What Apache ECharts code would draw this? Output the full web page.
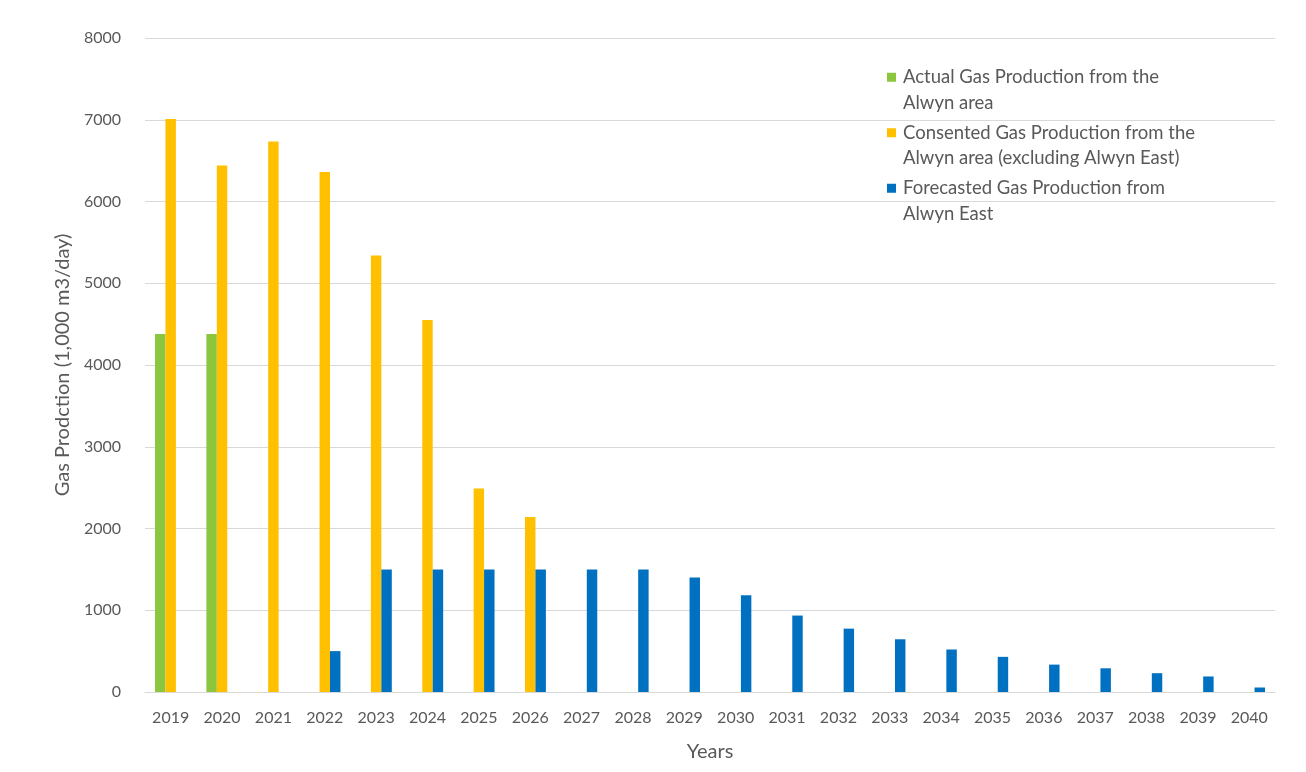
<!DOCTYPE html>
<html>
<head>
<meta charset="utf-8">
<script src="https://cdn.jsdelivr.net/npm/echarts@6/dist/echarts.min.js"></script>
<style>
  html, body { margin: 0; padding: 0; background: #fff; }
  #chart { width: 1306px; height: 772px; }
</style>
</head>
<body>
<div id="chart"></div>
<script>
const years = ['2019', '2020', '2021', '2022', '2023', '2024', '2025', '2026', '2027', '2028', '2029',
  '2030', '2031', '2032', '2033', '2034', '2035', '2036', '2037', '2038', '2039', '2040'];

const actualGas = [4380, 4380, null, null, null, null, null, null, null, null, null,
  null, null, null, null, null, null, null, null, null, null, null];

const consentedGas = [7010, 6440, 6735, 6360, 5340, 4550, 2490, 2140, null, null, null,
  null, null, null, null, null, null, null, null, null, null, null];

const forecastGas = [null, null, null, 500, 1500, 1500, 1500, 1500, 1500, 1500, 1400,
  1185, 935, 775, 645, 520, 430, 335, 290, 230, 190, 55];

const seriesNames = [
  'Actual Gas Production from the\nAlwyn area',
  'Consented Gas Production from the\nAlwyn area (excluding Alwyn East)',
  'Forecasted Gas Production from\nAlwyn East'
];

const chart = echarts.init(document.getElementById('chart'));
const fontFamily = 'Lato, "Open Sans", sans-serif';
const textColor = '#595959';

const option = {
  animation: false,
  textStyle: { fontFamily: fontFamily },
  grid: {
    left: 145,
    right: 31,
    top: 38,
    bottom: 80,
  },
  legend: {
    orient: 'vertical',
    left: 887,
    top: 39,
    padding: 0,
    itemWidth: 9,
    itemHeight: 9,
    itemGap: -21,
    icon: 'rect',
    data: seriesNames,
    // leading empty line so the icon lines up with the first text line
    formatter: (name) => '\n' + name,
    textStyle: {
      color: textColor,
      fontSize: 18.5,
      lineHeight: 25.5,
      padding: [0, 0, 0, 2],
    },
  },
  xAxis: {
    type: 'category',
    data: years,
    name: 'Years',
    nameLocation: 'middle',
    nameGap: 50,
    nameTextStyle: { color: textColor, fontSize: 20 },
    axisLine: { lineStyle: { color: '#d9d9d9', width: 1 } },
    axisTick: { show: false },
    axisLabel: { color: textColor, fontSize: 16, margin: 18 },
  },
  yAxis: {
    type: 'value',
    min: 0,
    max: 8000,
    interval: 1000,
    name: 'Gas Prodction (1,000 m3/day)',
    nameLocation: 'middle',
    nameGap: 70,
    nameTextStyle: { color: textColor, fontSize: 20 },
    axisLine: { show: false },
    axisTick: { show: false },
    axisLabel: {
      color: textColor,
      fontSize: 16,
      margin: 24,
      formatter: (v) => String(v),
    },
    splitLine: { lineStyle: { color: '#d9d9d9', width: 1 } },
  },
  series: [
    {
      name: seriesNames[0],
      type: 'bar',
      data: actualGas,
      barGap: '0%',
      barCategoryGap: '39%',
      itemStyle: { color: '#8cc63f' },
    },
    {
      name: seriesNames[1],
      type: 'bar',
      data: consentedGas,
      barGap: '0%',
      barCategoryGap: '39%',
      itemStyle: { color: '#ffc000' },
    },
    {
      name: seriesNames[2],
      type: 'bar',
      data: forecastGas,
      barGap: '0%',
      barCategoryGap: '39%',
      itemStyle: { color: '#0070c0' },
    },
  ],
};

chart.setOption(option);
</script>
</body>
</html>
